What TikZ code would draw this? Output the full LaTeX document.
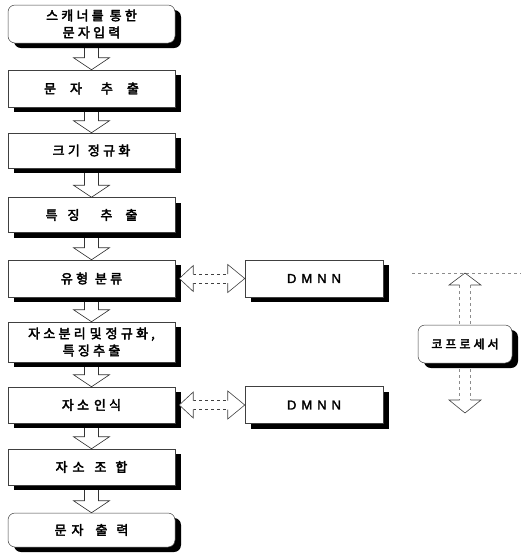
\documentclass[tikz,border=0pt]{standalone}
\usepackage{fontspec}
\newfontfamily\kr{Noto Sans CJK KR}[LetterSpace=25, FakeBold=3]
\newfontfamily\lat{Liberation Sans}[FakeBold=2]
\usetikzlibrary{calc,shadows}
\pgfdeclarelayer{bg}
\pgfsetlayers{bg,main}
\newcommand\g[1]{\hspace{#1pt}}
\newcommand\dnarr[2]{%
  \begin{pgfonlayer}{bg}
  \draw[harrow] ($(#1.south)+(-7,0)$) -- ($(#2.north)+(-7,-12)$) -- ($(#2.north)+(-18,-12)$) -- (#2.north)
     -- ($(#2.north)+(18,-12)$) -- ($(#2.north)+(7,-12)$) -- ($(#1.south)+(7,0)$);
  \end{pgfonlayer}}
\newcommand\dblarr[2]{%
  \coordinate (L) at ($(#1.east)+(4,0)$);
  \coordinate (R) at (#2.west);
  \draw[thinl,dashed] ($(L)+(14,-4.5)$) -- ($(R)+(-17,-4.5)$);
  \draw[thinl,dashed] ($(L)+(14,4.5)$) -- ($(R)+(-17,4.5)$);
  \draw[thinl,fill=white] ($(L)+(14,-4.5)$) -- ($(L)+(14,-13)$) -- (L) -- ($(L)+(14,13)$) -- ($(L)+(14,4.5)$);
  \draw[thinl] ($(R)+(-17,-4.5)$) -- ($(R)+(-17,-14)$) -- (R) -- ($(R)+(-17,14)$) -- ($(R)+(-17,4.5)$);}
\begin{document}
\begin{tikzpicture}[x=1pt,y=-1pt,
  box/.style={draw=black!75, line width=0.5pt, fill=white, minimum width=167pt, inner sep=0pt,
    font=\kr\fontsize{13}{17}\selectfont, align=center,
    drop shadow={shadow xshift=6pt, shadow yshift=-5pt, fill=black, opacity=1}},
  rbox/.style={box, rounded corners=7pt},
  dbox/.style={box, minimum width=138pt, minimum height=37pt, font=\lat\fontsize{13}{15}\selectfont},
  harrow/.style={draw=black!80, line width=0.6pt, fill=white, line join=miter},
  thinl/.style={draw=black!75, line width=0.6pt, line join=miter},
  faint/.style={draw=black!45, line width=0.5pt, dash pattern=on 3pt off 3pt}]
\useasboundingbox (0,0) rectangle (522,558);

\node[rbox, minimum height=38pt] (b1) at (91.5,24) {스캐너를\g{6}통한\\문자입력};
\node[box, minimum height=37pt] (b2) at (91.5,88.5) {문\g{14}자\g{19}추\g{14}출};
\node[box, minimum height=35pt] (b3) at (91.5,150.5) {크기\g{8}정규화};
\node[box, minimum height=35pt] (b4) at (91.5,215) {특\g{10}징\g{21}추\g{13}출};
\node[box, minimum height=37pt] (b5) at (91.5,278.5) {유형\g{7}분류};
\node[box, minimum height=40pt] (b6) at (91.5,342) {자소분리\g{4}및\g{4}정규화,\\특징추출};
\node[box, minimum height=36pt] (b7) at (91.5,405) {자소\g{5}인식};
\node[box, minimum height=36pt] (b8) at (91.5,467) {자\g{5}소\g{10}조\g{9}합};
\node[rbox, minimum height=34pt] (b9) at (91.5,530) {문\g{5}자\g{12}출\g{9}력};

\node[dbox] (d1) at (314,278.5) {D\g{5}M\g{5}N\g{5}N};
\node[dbox] (d2) at (314,405) {D\g{5}M\g{5}N\g{5}N};

\node[rbox, minimum width=94pt, minimum height=38pt, font=\kr\fontsize{12}{14}\selectfont] (co) at (465,344) {코프로세서};

\dnarr{b1}{b2}
\dnarr{b2}{b3}
\dnarr{b3}{b4}
\dnarr{b4}{b5}
\dnarr{b5}{b6}
\dnarr{b6}{b7}
\dnarr{b7}{b8}
\dnarr{b8}{b9}

\dblarr{b5}{d1}
\dblarr{b7}{d2}

% coprocessor arrows
\coordinate (hl1) at (412,273);
\coordinate (hl2) at (521,273);
\draw[faint] (hl1) -- (hl2);
\coordinate (ut) at (465,273);
\draw[faint] ($(ut)+(-5.5,12)$) -- ($(co.north)+(-5.5,0)$);
\draw[faint] ($(ut)+(5.5,12)$) -- ($(co.north)+(5.5,0)$);
\draw[thinl] ($(ut)+(-5.5,12)$) -- ($(ut)+(-16,12)$) -- (ut) -- ($(ut)+(16,12)$) -- ($(ut)+(5.5,12)$);
\coordinate (dt) at (465,413);
\draw[faint] ($(co.south)+(-5.5,6)$) -- ($(dt)+(-5.5,-13)$);
\draw[faint] ($(co.south)+(5.5,6)$) -- ($(dt)+(5.5,-13)$);
\draw[thinl] ($(dt)+(-5.5,-13)$) -- ($(dt)+(-16,-13)$) -- (dt) -- ($(dt)+(16,-13)$) -- ($(dt)+(5.5,-13)$);
\end{tikzpicture}
\end{document}
